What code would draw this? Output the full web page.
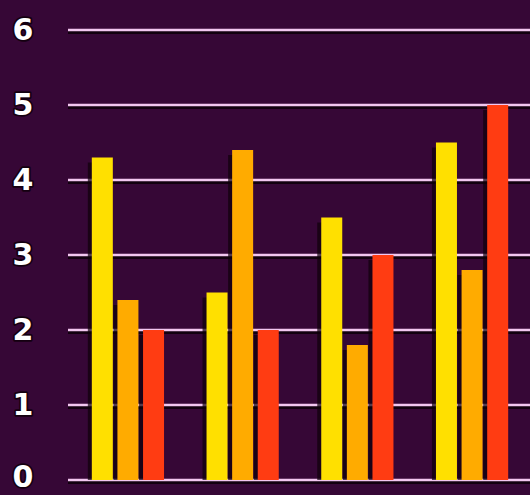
<!DOCTYPE html>
<html>
<head>
<meta charset="utf-8">
<script src="https://cdn.jsdelivr.net/npm/d3@7"></script>
<style>
  body { margin: 0; background: #360736; }
</style>
</head>
<body>
<div id="chart"></div>
<script>
const groups = ["A", "B", "C", "D"];
const seriesNames = ["yellow", "orange", "red"];
const yellowValues = [4.3, 2.5, 3.5, 4.5];
const orangeValues = [2.4, 4.4, 1.8, 2.8];
const redValues = [2.0, 2.0, 3.0, 5.0];
const yTicks = [0, 1, 2, 3, 4, 5, 6];

const colors = { yellow: "#ffe000", orange: "#ffab00", red: "#ff3c12" };

const width = 530, height = 495;
const margin = { top: 30, right: 0, bottom: 15, left: 68 };

const table = groups.map((g, i) => ({
  group: g,
  yellow: yellowValues[i],
  orange: orangeValues[i],
  red: redValues[i],
}));

const svg = d3
  .select("#chart")
  .append("svg")
  .attr("width", width)
  .attr("height", height);

svg.append("rect")
  .attr("width", width)
  .attr("height", height)
  .attr("fill", "#360736");

const y = d3
  .scaleLinear()
  .domain([0, 6])
  .range([height - margin.bottom, margin.top]);

const x0 = d3
  .scaleBand()
  .domain(groups)
  .range([margin.left + 2, width])
  .paddingInner(0.29)
  .paddingOuter(0.15);

const x1 = d3
  .scaleBand()
  .domain(seriesNames)
  .range([0, x0.bandwidth()])
  .padding(0.18);

// gridlines with dark shadow
const grid = svg.append("g");
grid.selectAll("line.shadow")
  .data(yTicks)
  .join("line")
  .attr("class", "shadow")
  .attr("x1", margin.left)
  .attr("x2", width)
  .attr("y1", (d) => y(d) + 2.5)
  .attr("y2", (d) => y(d) + 2.5)
  .attr("stroke", "#12000f")
  .attr("stroke-width", 3);
grid.selectAll("line.main")
  .data(yTicks)
  .join("line")
  .attr("class", "main")
  .attr("x1", margin.left)
  .attr("x2", width)
  .attr("y1", (d) => y(d))
  .attr("y2", (d) => y(d))
  .attr("stroke", "#f2c6f0")
  .attr("stroke-width", 2.5);

// y labels (bottom one nudged up so it stays inside the frame)
svg.append("g")
  .selectAll("text")
  .data(yTicks)
  .join("text")
  .attr("x", 23)
  .attr("y", (d) => (d === 0 ? y(d) - 3 : y(d)))
  .attr("dy", "0.34em")
  .attr("text-anchor", "middle")
  .attr("font-family", "DejaVu Sans, sans-serif")
  .attr("font-weight", "bold")
  .attr("font-size", 30)
  .attr("fill", "white")
  .attr("stroke", "#140010")
  .attr("stroke-width", 3.5)
  .attr("stroke-linejoin", "round")
  .attr("paint-order", "stroke")
  .text((d) => d);

// bars
const groupsG = svg.append("g")
  .selectAll("g")
  .data(table)
  .join("g")
  .attr("transform", (d) => `translate(${x0(d.group)},0)`);

const bars = groupsG.selectAll("g")
  .data((d) => seriesNames.map((k) => ({ key: k, value: d[k] })))
  .join("g");

// shadow on left side
bars.append("rect")
  .attr("x", (d) => x1(d.key) - 4)
  .attr("y", (d) => y(d.value) + 5)
  .attr("width", x1.bandwidth())
  .attr("height", (d) => y(0) - y(d.value) - 5)
  .attr("fill", "#0e0008")
  .attr("opacity", 0.7);

bars.append("rect")
  .attr("x", (d) => x1(d.key))
  .attr("y", (d) => y(d.value))
  .attr("width", x1.bandwidth())
  .attr("height", (d) => y(0) - y(d.value))
  .attr("fill", (d) => colors[d.key]);
</script>
</body>
</html>
